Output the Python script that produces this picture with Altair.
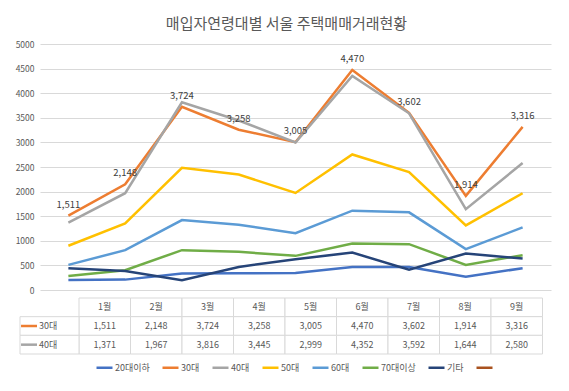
import altair as alt
import pandas as pd

# ---- data ----
months = ["1월", "2월", "3월", "4월", "5월", "6월", "7월", "8월", "9월"]
series_names = ["20대이하", "30대", "40대", "50대", "60대", "70대이상", "기타"]
v_20 = [204, 211, 335, 340, 345, 469, 469, 272, 443]
v_30 = [1511, 2148, 3724, 3258, 3005, 4470, 3602, 1914, 3316]
v_40 = [1371, 1967, 3816, 3445, 2999, 4352, 3592, 1644, 2580]
v_50 = [900, 1353, 2483, 2347, 1973, 2755, 2395, 1313, 1966]
v_60 = [510, 810, 1422, 1327, 1156, 1612, 1578, 830, 1272]
v_70 = [286, 401, 810, 776, 694, 946, 932, 510, 708]
v_etc = [443, 388, 200, 469, 626, 761, 415, 741, 639]
y_ticks = [0, 500, 1000, 1500, 2000, 2500, 3000, 3500, 4000, 4500, 5000]
table_rows = ["30대", "40대"]
title_text = "매입자연령대별 서울 주택매매거래현황"

legend_names = series_names + [" "]
colors = ["#4472C4", "#ED7D31", "#A5A5A5", "#FFC000", "#5B9BD5",
          "#70AD47", "#264478", "#A9521F"]

FONT = "Noto Sans CJK KR"
TXT = "#595959"
GRID = "#D9D9D9"

all_values = [v_20, v_30, v_40, v_50, v_60, v_70, v_etc]
recs = []
for name, vals in zip(series_names, all_values):
    for m, v in zip(months, vals):
        recs.append({"month": m, "series": name, "value": v})
df = pd.DataFrame(recs)

color_enc = alt.Color(
    "series:N",
    scale=alt.Scale(domain=legend_names, range=colors),
    legend=alt.Legend(
        orient="none", legendX=55, legendY=314, direction="horizontal",
        title=None, symbolType="stroke", symbolSize=256, symbolStrokeWidth=2.5,
        labelFontSize=9, labelColor=TXT, labelFont=FONT, columnPadding=7,
        labelOffset=1,
    ),
)

x_enc = alt.X("month:N", sort=months,
              scale=alt.Scale(type="point", padding=0.5), axis=None)
y_enc = alt.Y(
    "value:Q",
    scale=alt.Scale(domain=[0, 5000]),
    axis=alt.Axis(values=y_ticks, format="d", grid=True, gridColor=GRID,
                  domain=False, ticks=False, labelPadding=6, labelFontSize=8.5,
                  labelColor=TXT, labelFont=FONT, title=None),
)

lines = alt.Chart(df).mark_line(strokeWidth=2.5).encode(
    x=x_enc, y=y_enc, color=color_enc
)
labels = alt.Chart(df[df["series"] == "30대"]).mark_text(
    dy=-11, fontSize=9.5, color="#404040", font=FONT
).encode(x=x_enc, y=y_enc, text=alt.Text("value:Q", format=","))

main = alt.layer(lines, labels)

# ---- data table under the plot ----
LABEL_W = 59 / 51.5
tx_scale = alt.Scale(domain=[0, len(months)], range=[39, 502.5])
ty_scale = alt.Scale(domain=[0, 3], range=[254, 310])

cells = []
for r in range(3):
    for i in range(len(months)):
        cells.append({"x0": i, "x1": i + 1, "y0": r, "y1": r + 1})
for r in (1, 2):
    cells.append({"x0": -LABEL_W, "x1": 0, "y0": r, "y1": r + 1})
cells_df = pd.DataFrame(cells)

header_df = pd.DataFrame({"txt": months,
                          "cx": [i + 0.5 for i in range(len(months))],
                          "cy": [0.5] * len(months)})

vals_recs = []
for r, (name, vals) in enumerate(zip(table_rows, [v_30, v_40]), start=1):
    for i, v in enumerate(vals):
        vals_recs.append({"cx": i + 0.5, "cy": r + 0.5, "value": v})
vals_df = pd.DataFrame(vals_recs)

lab_df = pd.DataFrame({
    "series": table_rows,
    "lx0": [-LABEL_W + 0.02] * 2,
    "lx1": [-LABEL_W + 0.33] * 2,
    "lt": [-LABEL_W + 0.37] * 2,
    "cy": [1.5, 2.5],
})

cell_marks = alt.Chart(cells_df).mark_rect(
    fill="white", stroke=GRID, strokeWidth=1
).encode(
    x=alt.X("x0:Q", scale=tx_scale, axis=None), x2="x1:Q",
    y=alt.Y("y0:Q", scale=ty_scale, axis=None), y2="y1:Q",
)
header_marks = alt.Chart(header_df).mark_text(
    fontSize=9, color=TXT, font=FONT
).encode(
    x=alt.X("cx:Q", scale=tx_scale, axis=None),
    y=alt.Y("cy:Q", scale=ty_scale, axis=None),
    text="txt:N",
)
value_marks = alt.Chart(vals_df).mark_text(
    fontSize=9, color=TXT, font=FONT
).encode(
    x=alt.X("cx:Q", scale=tx_scale, axis=None),
    y=alt.Y("cy:Q", scale=ty_scale, axis=None),
    text=alt.Text("value:Q", format=","),
)
row_lines = alt.Chart(lab_df).mark_rule(strokeWidth=2.5).encode(
    x=alt.X("lx0:Q", scale=tx_scale, axis=None), x2="lx1:Q",
    y=alt.Y("cy:Q", scale=ty_scale, axis=None),
    color=color_enc,
)
row_text = alt.Chart(lab_df).mark_text(
    fontSize=9, color=TXT, font=FONT, align="left"
).encode(
    x=alt.X("lt:Q", scale=tx_scale, axis=None),
    y=alt.Y("cy:Q", scale=ty_scale, axis=None),
    text="series:N",
)

table = alt.layer(cell_marks, header_marks, value_marks, row_lines, row_text)

chart = alt.layer(main, table).resolve_scale(
    x="independent", y="independent"
).properties(
    width=511, height=246,
    title=alt.Title(title_text, fontSize=15, font=FONT, fontWeight="normal",
                    color=TXT, anchor="middle", dx=-9, offset=8),
    autosize=alt.AutoSizeParams(type="none"),
    padding={"left": 32, "top": 36, "right": 10, "bottom": 93},
    background="white",
).configure_view(stroke=None)

chart.save("out.html", embed_options={"renderer": "svg", "actions": False})
